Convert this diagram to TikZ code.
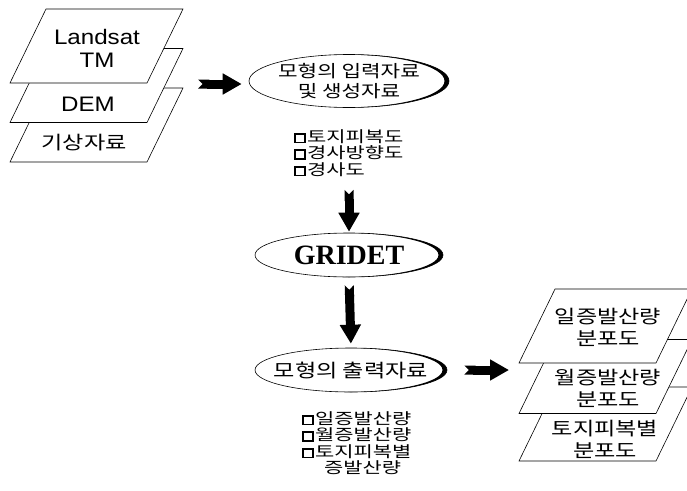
\documentclass[tikz,border=0pt]{standalone}
\usepackage{fontspec}
\setmainfont{Liberation Sans}
\newfontfamily\krfont{Noto Sans CJK KR}[FakeStretch=1.25]
\newfontfamily\krwide{Noto Sans CJK KR}[FakeStretch=1.35]
\newfontfamily\latwide{Liberation Sans}[FakeStretch=1.15]
\newfontfamily\gridetfont{Liberation Serif}
\usetikzlibrary{shapes.geometric, arrows.meta}

% shadowed check box in front of the list items
\newcommand{\qbox}{\raisebox{0.5pt}{\setlength{\fboxrule}{1.7pt}\setlength{\fboxsep}{0pt}\fbox{\rule{0pt}{7pt}\hspace{8pt}}}\hspace{1.5pt}}

\tikzset{
	layer/.pic={
		\draw[line width=0.6pt, fill=white] (-86.5,37) -- (50.5,37) -- (86.5,-37) -- (-50.5,-37) -- cycle;
	},
	oval/.style 2 args={ellipse, draw, line width=0.6pt, minimum width=#1, minimum height=#2, inner sep=0pt,
		path picture={\fill[even odd rule] (path picture bounding box.south west) rectangle (path picture bounding box.north east)
			([xshift=-4.5pt]path picture bounding box.center) ellipse [x radius=#1/2, y radius=#2/2];}},
	fatarrow/.style={line width=9pt, {Triangle Cap[reversed]}-{Triangle[length=19pt, width=20pt]}},
	ovaltext/.style={font=\krfont\fontsize{17}{20}\selectfont, align=center},
	layertext/.style={font=\krfont\fontsize{18.5}{22}\selectfont, align=center},
	listtext/.style={font=\krwide\fontsize{15.5}{16.5}\selectfont, align=left, inner sep=0pt, anchor=north west},
}

\begin{document}
\begin{tikzpicture}[x=1pt, y=-1pt]
	\useasboundingbox (0,0) rectangle (687,490);
	\clip (0,0) rectangle (687,490);

	% input layers
	\pic at (96.5,125) {layer};
	\pic at (96.5,85.5) {layer};
	\pic at (96.5,46) {layer};
	\node[font=\latwide\fontsize{21}{23}\selectfont, align=center] (landsat) at (97,48) {Landsat\\TM};
	\node[font=\latwide\fontsize{21}{23}\selectfont] (dem) at (88,104) {DEM};
	\node[layertext, font=\krfont\fontsize{18.5}{22}\selectfont] (weather) at (84,143) {기상자료};
	\coordinate (instack) at (198,84);

	% model
	\node[oval={200pt}{53pt}] (e1) at (349,81) {};
	\node[ovaltext] (e1text) at (e1) {모형의 입력자료\\및 생성자료};
	\node[listtext] (list1) at (294,129) {\qbox 토지피복도\\\qbox 경사방향도\\\qbox 경사도};

	\node[oval={188pt}{44pt}] (gridet) at (349,255) {};
	\node[font=\gridetfont\bfseries\fontsize{28}{30}\selectfont] (gridettext) at (gridet) {GRIDET};

	\node[oval={192pt}{44pt}] (e3) at (351,370) {};
	\node[ovaltext, font=\krfont\fontsize{18.5}{20}\selectfont] (e3text) at (e3) {모형의 출력자료};
	\node[listtext] (list3) at (302,411) {\qbox 일증발산량\\\qbox 월증발산량\\\qbox 토지피복별\\\hspace{22pt}증발산량};

	% output layers
	\pic at (605.5,424) {layer};
	\pic at (605.5,376.5) {layer};
	\pic at (605.5,326) {layer};
	\node[layertext] (daily) at (608,327) {일증발산량\\분포도};
	\node[layertext] (monthly) at (608,388) {월증발산량\\분포도};
	\node[layertext] (landcover) at (605,439) {토지피복별\\분포도};
	\coordinate (outstack) at (509,370);

	\draw[fatarrow, shorten >=7pt] (instack) -- (instack -| e1.west);
	\draw[fatarrow, shorten <=82pt, shorten >=1pt] (e1.south) -- (gridet.north);
	\draw[fatarrow, shorten <=8pt, shorten >=4pt] (gridet.south) -- (e3.north);
	\draw[fatarrow, shorten <=17pt] (e3.east) -- (outstack);
\end{tikzpicture}
\end{document}
